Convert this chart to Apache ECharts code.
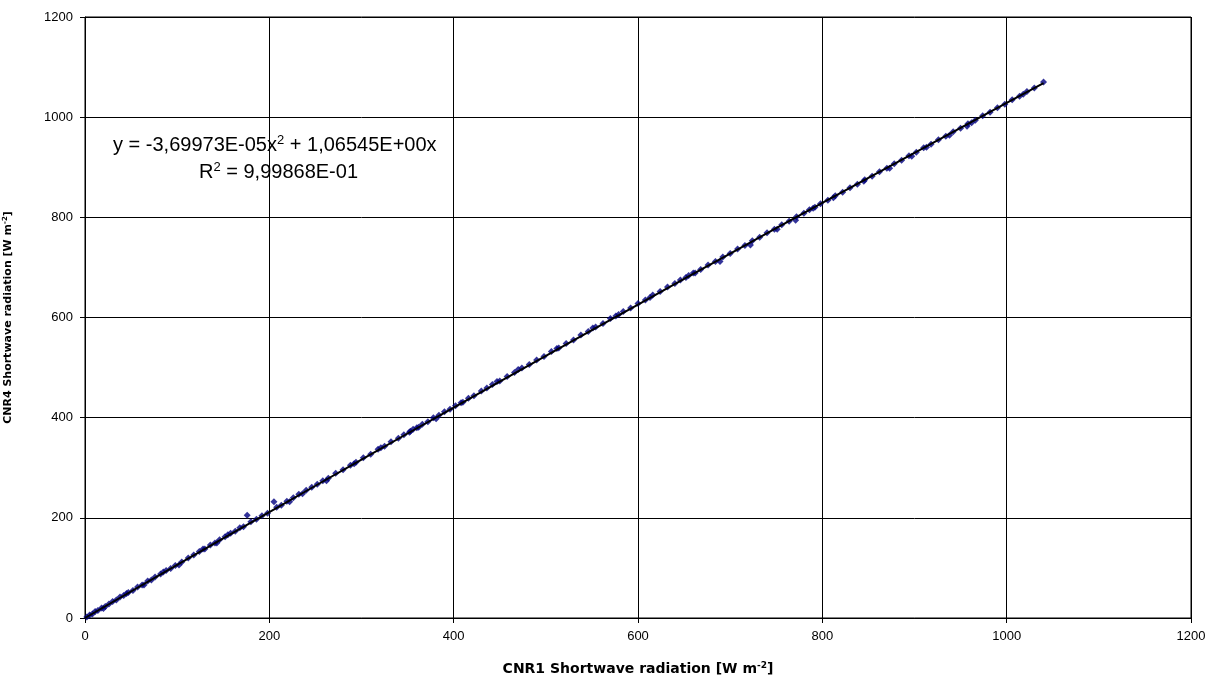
<!DOCTYPE html>
<html><head><meta charset="utf-8">
<script src="https://cdn.jsdelivr.net/npm/echarts@6/dist/echarts.min.js"></script>
<style>html,body{margin:0;padding:0;background:#fff}#c{width:1221px;height:691px}</style>
</head><body><div id="c"></div>
<script>
const xTicks = [0,200,400,600,800,1000,1200];
const yTicks = [0,200,400,600,800,1000,1200];
const obsX = [2,5,8,11,14,18,22,26,30,34,38,42,47,52,57,62,68,72,76,82,88,93,98,105,112,118,124,130,136,141,146,152,158,163,168,176,180,186,192,198,205,208,213,219,226,232,240,246,252,258,264,272,280,288,294,302,310,318,325,332,340,346,352,356,360,366,372,378,384,390,396,402,410,416,422,430,436,442,450,458,466,474,482,490,498,506,514,522,530,538,546,554,562,570,576,584,592,600,608,616,624,632,640,646,652,660,668,676,684,692,700,708,716,724,732,740,748,756,764,772,780,786,792,798,806,814,822,830,838,846,854,862,870,878,886,894,902,910,918,926,934,942,950,958,966,974,982,990,998,1006,1014,1022,1030,1040,
  20,45,64,85,102,128,143,155,172,222,236,262,292,321,353,362,381,408,447,470,512,551,579,613,655,662,689,722,751,771,790,812,845,873,897,913,938,957,962,1018];
const obsY = [2,6,8,13,15,20,23,28,33,36,42,45,51,55,62,66,74,76,82,88,95,99,105,112,120,126,133,138,146,150,156,162,169,173,180,205,192,197,204,209,232,221,225,233,240,247,255,261,267,274,279,289,296,305,311,320,327,337,343,352,359,366,371,377,380,387,392,400,405,412,417,424,431,439,444,453,459,466,473,482,490,499,506,515,522,532,539,548,555,565,572,581,588,598,603,612,619,628,635,645,652,661,668,675,680,689,696,705,712,721,728,737,744,753,760,769,776,785,792,801,808,815,820,827,834,843,850,859,866,875,882,891,898,907,914,923,930,939,946,955,962,971,978,987,994,1003,1010,1019,1026,1035,1042,1051,1058,1070,
  19,49,66,92,106,138,150,166,182,232,248,274,308,340,373,381,398,430,472,496,538,579,606,640,684,689,712,745,776,794,818,839,872,898,922,940,964,982,989,1046];
const fitX = [0,100,200,300,400,500,600,700,800,900,1000,1040];
const fitY = [0,106.18,211.61,316.31,420.26,523.48,625.95,727.69,828.68,928.94,1028.45,1068.05];

const chart = echarts.init(document.getElementById('c'), null, {renderer:'canvas'});
const font = 'Liberation Sans, Arial, sans-serif';
const bold = 'DejaVu Sans, sans-serif';
const axisCommon = {
  min: 0, max: 1200, interval: 200,
  axisLine: {show: true, onZero: false, lineStyle: {color: '#000', width: 1}},
  axisTick: {show: true, inside: false, length: 5, lineStyle: {color: '#000'}},
  splitLine: {show: true, lineStyle: {color: '#000', width: 1}},
  axisLabel: {color: '#000', fontSize: 13, fontFamily: font, margin: 12, formatter: v => String(v)}
};
chart.setOption({
  animation: false,
  backgroundColor: '#fff',
  grid: {left: 85, right: 30, top: 17, bottom: 73, containLabel: false, outerBoundsMode: 'none', show: true, borderColor: '#000', borderWidth: 1},
  xAxis: Object.assign({}, axisCommon, {
    type: 'value',
    name: '{t|CNR1 Shortwave radiation [W m}{s|-2}{t|]}',
    nameLocation: 'middle', nameGap: 43,
    nameTextStyle: {rich: {t: {fontSize: 14, fontWeight: 'bold', fontFamily: bold, color: '#000'},
                           s: {fontSize: 9, fontWeight: 'bold', fontFamily: bold, color: '#000', padding: [0,0,8,0]}}}
  }),
  yAxis: Object.assign({}, axisCommon, {
    type: 'value',
    name: '{t|CNR4 Shortwave radiation [W m}{s|-2}{t|]}',
    nameLocation: 'middle', nameGap: 70,
    nameTextStyle: {rich: {t: {fontSize: 11, fontWeight: 'bold', fontFamily: bold, color: '#000'},
                           s: {fontSize: 7, fontWeight: 'bold', fontFamily: bold, color: '#000', padding: [0,0,6,0]}}}
  }),
  series: [
    {type: 'scatter', symbol: 'diamond', symbolSize: 7, itemStyle: {color: '#000080'},
     data: obsX.map((x,i)=>[x, obsY[i]]), z: 2},
    {type: 'line', symbol: 'none', smooth: true, lineStyle: {color: '#000', width: 2},
     data: fitX.map((x,i)=>[x, fitY[i]]), z: 3}
  ],
  graphic: [
    {type: 'text', left: 113, top: 134, style: {
      text: '{a|y = -3,69973E-05x}{b|2}{a| + 1,06545E+00x}',
      rich: {a: {fontSize: 20, fontFamily: font, fill: '#000'}, b: {fontSize: 13, fontFamily: font, fill: '#000', padding: [0,0,10,0]}}
    }},
    {type: 'text', left: 199, top: 161, style: {
      text: '{a|R}{b|2}{a| = 9,99868E-01}',
      rich: {a: {fontSize: 20, fontFamily: font, fill: '#000'}, b: {fontSize: 13, fontFamily: font, fill: '#000', padding: [0,0,10,0]}}
    }}
  ]
});
</script></body></html>
